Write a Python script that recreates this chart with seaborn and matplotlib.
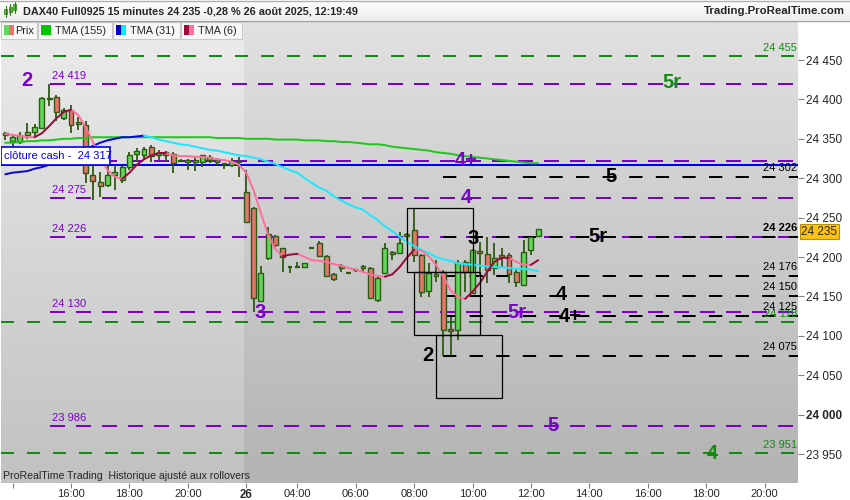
import numpy as np
import pandas as pd
import matplotlib
matplotlib.use("Agg")
import matplotlib.pyplot as plt
from matplotlib.patches import Rectangle
from matplotlib.colors import to_rgb
import seaborn as sns

sns.set_theme(style="white")
plt.rcParams['font.family'] = ['Liberation Sans', 'DejaVu Sans']
plt.rcParams['lines.scale_dashes'] = False

# ---------------------------------------------------------------- data
# 15-minute bars, index 0 = 16:00 on the 25th (session gaps removed)
bars = list(range(-9, 65))

opens = [24357, 24347, 24346, 24355, 24359, 24364, 24400, 24403, 24376, 24387,
         24369, 24368, 24304, 24295, 24291, 24304, 24298, 24314, 24331, 24329,
         24340, 24330, 24333, 24331, 24322, 24320, 24320, 24321, 24327, 24323,
         24318, 24317, 24322, 24282, 24262, 24144, 24199, 24227, 24211, 24187,
         24187, 24187, 24211, 24218, 24201, 24179, 24188, 24180, 24183, 24186,
         24186, 24145, 24180, 24206, 24205, 24227, 24234, 24203, 24157, 24178,
         24181, 24109, 24107, 24194, 24154, 24207, 24204, 24186, 24202, 24203,
         24181, 24164, 24209, 24227]
highs = [24359, 24356, 24358, 24370, 24369, 24403, 24419, 24405, 24389, 24393,
         24378, 24372, 24317, 24308, 24317, 24317, 24316, 24333, 24338, 24340,
         24342, 24336, 24335, 24333, 24325, 24325, 24326, 24330, 24330, 24326,
         24318, 24326, 24327, 24310, 24264, 24189, 24238, 24228, 24211, 24188,
         24194, 24193, 24212, 24220, 24203, 24180, 24191, 24181, 24185, 24190,
         24187, 24175, 24218, 24207, 24232, 24231, 24262, 24204, 24192, 24196,
         24184, 24124, 24196, 24196, 24210, 24219, 24225, 24218, 24211, 24205,
         24184, 24222, 24226, 24236]
lows = [24349, 24340, 24343, 24350, 24353, 24362, 24392, 24372, 24374, 24357,
        24361, 24294, 24272, 24276, 24289, 24285, 24294, 24311, 24321, 24325,
        24320, 24323, 24321, 24307, 24320, 24311, 24309, 24314, 24319, 24317,
        24312, 24314, 24302, 24243, 24130, 24143, 24196, 24213, 24181, 24180,
        24186, 24186, 24210, 24200, 24175, 24169, 24181, 24179, 24181, 24181,
        24147, 24143, 24179, 24196, 24205, 24219, 24194, 24149, 24149, 24168,
        24075, 24076, 24095, 24156, 24153, 24175, 24167, 24177, 24187, 24167,
        24162, 24163, 24203, 24226]
closes = [24355, 24352, 24355, 24359, 24365, 24402, 24402, 24384, 24387, 24368,
          24371, 24307, 24296, 24290, 24304, 24308, 24314, 24329, 24335, 24337,
          24328, 24332, 24330, 24319, 24321, 24323, 24323, 24329, 24323, 24321,
          24318, 24322, 24320, 24244, 24148, 24180, 24229, 24215, 24200, 24186,
          24188, 24192, 24211, 24201, 24176, 24172, 24186, 24180, 24182, 24188,
          24148, 24173, 24211, 24204, 24218, 24229, 24203, 24156, 24180, 24176,
          24107, 24106, 24192, 24181, 24209, 24205, 24184, 24199, 24200, 24179,
          24168, 24206, 24225, 24235]

tma155 = [24345, 24345, 24346, 24347, 24347, 24348, 24348, 24349, 24350, 24350,
          24351, 24351, 24352, 24352, 24352, 24352, 24352, 24352, 24352, 24352,
          24352, 24352, 24352, 24352, 24352, 24352, 24352, 24352, 24352, 24351,
          24351, 24351, 24351, 24350, 24350, 24350, 24350, 24349, 24349, 24349,
          24349, 24348, 24348, 24348, 24347, 24347, 24346, 24346, 24345, 24344,
          24343, 24343, 24342, 24340, 24339, 24338, 24337, 24336, 24335, 24333,
          24332, 24331, 24329, 24328, 24327, 24326, 24325, 24324, 24323, 24322,
          24321, 24320, 24319, 24319]
tma31 = [24305, 24307, 24308, 24309, 24312, 24314, 24317, 24321, 24324, 24328,
         24332, 24336, 24341, 24345, 24348, 24350, 24352, 24352, 24353, 24354,
         24352, 24349, 24347, 24345, 24343, 24342, 24340, 24338, 24336, 24335,
         24333, 24331, 24329, 24328, 24326, 24324, 24321, 24318, 24314, 24310,
         24307, 24300, 24294, 24288, 24284, 24277, 24272, 24267, 24263, 24260,
         24253, 24247, 24239, 24233, 24226, 24219, 24214, 24209, 24205, 24200,
         24197, 24195, 24192, 24191, 24190, 24189, 24188, 24187, 24187, 24186,
         24185, 24185, 24184, 24182]
tma6 = [24356, 24355, 24354, 24352, 24352, 24357, 24366, 24376, 24384, 24387,
        24380, 24365, 24346, 24327, 24310, 24302, 24299, 24307, 24317, 24324,
        24329, 24332, 24332, 24329, 24328, 24328, 24327, 24327, 24326, 24324,
        24323, 24321, 24317, 24307, 24285, 24256, 24228, 24210, 24201, 24203,
        24204, 24200, 24196, 24195, 24194, 24191, 24189, 24186, 24184, 24181,
        24178, 24176, 24175, 24178, 24187, 24199, 24209, 24208, 24201, 24190,
        24175, 24158, 24149, 24147, 24156, 24167, 24181, 24194, 24199, 24199,
        24194, 24190, 24190, 24196]

cash_close = 24317
last_price = 24235

green_levels = [24455, 24118, 23951]
green_level_labels = ["24 455", "24 118", "23 951"]
purple_levels = [24419, 24322, 24275, 24226, 24130, 23986]
purple_level_labels = ["24 419", "24 322", "24 275", "24 226", "24 130", "23 986"]
black_levels = [24302, 24226, 24176, 24150, 24125, 24075]
black_level_labels = ["24 302", "24 226", "24 176", "24 150", "24 125", "24 075"]

# zones: first bar, bars wide, top and bottom price
zone_start = [46, 47, 50]
zone_top = [24262, 24181, 24101]
zone_bottom = [24181, 24101, 24021]
zone_len = 9

# wave counts: text, bar, price
purple_counts = [("2", -6.0, 24424), ("3", 25.9, 24130), ("4+", 54.1, 24322),
                 ("4", 54.1, 24275), ("5r", 61.1, 24130), ("5", 66.0, 23986)]
green_counts = [("5r", 82.3, 24422), ("4", 87.9, 23951)]
black_counts = [("3", 55.1, 24224), ("5", 74.0, 24302), ("5r", 72.2, 24226),
                ("4", 67.1, 24152), ("4+", 68.4, 24125), ("2", 48.9, 24075)]

yticks = [23950, 24000, 24050, 24100, 24150, 24200, 24250, 24300, 24350, 24400, 24450]
xtick_bars = [-8, 0, 8, 16, 24, 31, 39, 47, 55, 63, 71, 79, 87, 95]
xtick_labels = ["", "16:00", "18:00", "20:00", "26", "04:00", "06:00", "08:00",
                "10:00", "12:00", "14:00", "16:00", "18:00", "20:00"]

# ---------------------------------------------------------------- colours
WICK = "#2d5a12"
UP_FILL = "#5fd75a"
DOWN_FILL = "#e8736b"
PURPLE = "#7a00cc"
GREEN_LVL = "#138a13"
BLUE = "#0000f0"

# ---------------------------------------------------------------- figure
W, H = 850, 500
fig = plt.figure(figsize=(W / 100, H / 100), dpi=100)
fig.patch.set_facecolor("white")

px_l, px_r, px_t, px_b = 1, 798, 22, 483
ax = fig.add_axes([px_l / W, (H - px_b) / H, (px_r - px_l) / W, (px_b - px_t) / H])

bar_px = 7.3
x0_px = 71
xmin = (px_l - x0_px) / bar_px
xmax = (px_r - x0_px) / bar_px
pp = 1.269  # price per pixel
ymin = 24450 - (px_b - 60) * pp
ymax = 24450 + (60 - px_t) * pp
ax.set_xlim(xmin, xmax)
ax.set_ylim(ymin, ymax)


def vgrad(top, bottom, n=256):
    t = np.linspace(0, 1, n)[:, None]
    a, b = np.array(to_rgb(top)), np.array(to_rgb(bottom))
    return (a * (1 - t) + b * t)[:, None, :]


split = 23.7
ax.imshow(vgrad("#ececec", "#c1c1c1"), extent=[xmin, split, ymin, ymax],
          aspect="auto", origin="upper", zorder=0, interpolation="bilinear")
ax.imshow(vgrad("#e1e1e1", "#b3b3b3"), extent=[split, xmax, ymin, ymax],
          aspect="auto", origin="upper", zorder=0, interpolation="bilinear")

for s in ax.spines.values():
    s.set_visible(False)

# ---------------------------------------------------------------- levels
px2pt = 0.72
lw_lvl = 2 * px2pt
for lvl in green_levels:
    ax.plot([xmin, xmax], [lvl, lvl], color=GREEN_LVL, lw=lw_lvl,
            dashes=(13 * px2pt, 13 * px2pt), zorder=2)
purple_x0 = (50 - x0_px) / bar_px
for lvl in purple_levels:
    ax.plot([purple_x0, xmax], [lvl, lvl], color=PURPLE, lw=lw_lvl,
            dashes=(15 * px2pt, 11 * px2pt), zorder=2)
black_x0 = 51
for lvl in black_levels:
    ax.plot([black_x0, xmax], [lvl, lvl], color="black", lw=lw_lvl,
            dashes=(13.3 * px2pt, 13.3 * px2pt), zorder=2.2)

ax.axhline(cash_close, color=BLUE, lw=2 * px2pt, zorder=2.5)

# price labels of levels
lab_fs = 8
x_left_lab = (52 - x0_px) / bar_px
for lvl, txt in zip(purple_levels, purple_level_labels):
    ax.text(x_left_lab, lvl + 3 * pp, txt, color=PURPLE, fontsize=lab_fs,
            ha="left", va="bottom", zorder=6)
x_right_lab = (797 - x0_px) / bar_px
for lvl, txt in zip(green_levels, green_level_labels):
    ax.text(x_right_lab, lvl + 3 * pp, txt, color=GREEN_LVL, fontsize=lab_fs,
            ha="right", va="bottom", zorder=6)
for lvl, txt in zip(black_levels, black_level_labels):
    ax.text(x_right_lab, lvl + 4 * pp, txt, color="black", fontsize=lab_fs,
            ha="right", va="bottom", zorder=6.5,
            fontweight="bold" if lvl == 24226 else "normal")

# ---------------------------------------------------------------- candles
for b, o, h, l, c in zip(bars, opens, highs, lows, closes):
    ax.plot([b, b], [l, h], color=WICK, lw=1.3, zorder=3, solid_capstyle="butt")
    if abs(c - o) < 1.5:
        ax.plot([b - 0.34, b + 0.34], [o, o], color=WICK, lw=1.6, zorder=4,
                solid_capstyle="butt")
    else:
        ax.bar(b, abs(c - o), bottom=min(o, c), width=0.68,
               color=UP_FILL if c > o else DOWN_FILL, edgecolor=WICK,
               linewidth=1.0, zorder=4)


# ---------------------------------------------------------------- averages
def direction_runs(values):
    rows, run, prev = [], 0, None
    for k in range(len(values) - 1):
        if values[k + 1] > values[k]:
            d = "up"
        elif values[k + 1] < values[k]:
            d = "down"
        else:
            d = prev or "up"
        if d != prev:
            run += 1
            rows.append((bars[k], values[k], run, d))
        rows.append((bars[k + 1], values[k + 1], run, d))
        prev = d
    return pd.DataFrame(rows, columns=["bar", "value", "run", "dir"])


sns.lineplot(x=bars, y=tma155, color="#1ec81e", lw=2 * px2pt, ax=ax, zorder=5)
sns.lineplot(data=direction_runs(tma31), x="bar", y="value", hue="dir",
             units="run", estimator=None, sort=False,
             palette={"up": "#0a0ad2", "down": "#1ee8ff"},
             lw=2 * px2pt, legend=False, ax=ax, zorder=5)
sns.lineplot(data=direction_runs(tma6), x="bar", y="value", hue="dir",
             units="run", estimator=None, sort=False,
             palette={"up": "#9a0a3c", "down": "#ff6f9c"},
             lw=2 * px2pt, legend=False, ax=ax, zorder=5.2)
ax.set_xlabel("")
ax.set_ylabel("")

# ---------------------------------------------------------------- zones
for s0, zt, zb in zip(zone_start, zone_top, zone_bottom):
    ax.add_patch(Rectangle((s0, zb), zone_len, zt - zb, fill=False,
                           edgecolor="black", lw=0.9, zorder=6))

# ---------------------------------------------------------------- counts
cnt_fs = 14.5
for txt, b, p in purple_counts:
    ax.text(b, p, txt, color=PURPLE, fontsize=cnt_fs, fontweight="bold",
            ha="center", va="center", zorder=7)
for txt, b, p in green_counts:
    ax.text(b, p, txt, color=GREEN_LVL, fontsize=cnt_fs, fontweight="bold",
            ha="center", va="center", zorder=7)
for txt, b, p in black_counts:
    ax.text(b, p, txt, color="black", fontsize=cnt_fs, fontweight="bold",
            ha="center", va="center", zorder=7)

# cash close tag
box_x1 = (110 - x0_px) / bar_px
ax.add_patch(Rectangle((xmin + 0.05, cash_close), box_x1 - xmin - 0.05, 22,
                       facecolor="white", edgecolor=BLUE, lw=1.2, zorder=8))
ax.text(xmin + 0.35, cash_close + 11, "clôture cash -  24 317", color=BLUE,
        fontsize=8, ha="left", va="center", zorder=9)

# ---------------------------------------------------------------- axes
ax.yaxis.tick_right()
ax.set_yticks(yticks)
ax.set_yticklabels([f"{v // 1000} {v % 1000:03d}" for v in yticks], fontsize=8.5)
for t in ax.get_yticklabels():
    if t.get_text() == "24 000":
        t.set_fontweight("bold")
ax.tick_params(axis="y", direction="out", length=4, width=0.8, color="#808080",
               pad=2, right=True, left=False, labelright=True, labelleft=False)
ax.set_xticks(xtick_bars)
ax.set_xticklabels(xtick_labels, fontsize=8)
for t in ax.get_xticklabels():
    if t.get_text() == "26":
        t.set_fontweight("bold")
        t.set_fontsize(8.3)
ax.tick_params(axis="x", direction="out", length=3.5, width=0.8, color="#808080",
               pad=1.0, bottom=True)

# last price tag on the scale
ax.annotate(f"{last_price // 1000} {last_price % 1000:03d}",
            xy=(1.0, last_price), xycoords=("axes fraction", "data"),
            xytext=(2.5, -1.5), textcoords="offset points", fontsize=8.5,
            ha="left", va="center", zorder=10, annotation_clip=False,
            bbox=dict(boxstyle="square,pad=0.12", facecolor="#ffc20e",
                      edgecolor="#b89000", lw=0.8))

# ---------------------------------------------------------------- header
ov = fig.add_axes([0, 0, 1, 1], zorder=20)
ov.set_xlim(0, W)
ov.set_ylim(H, 0)
ov.axis("off")
ov.patch.set_alpha(0)

ov.imshow(vgrad("#ffffff", "#eeeeee"), extent=[0, W, 20, 0], aspect="auto")
ov.plot([0, W], [0.5, 0.5], color="#b0b0b0", lw=1)
ov.plot([0, W], [20.5, 20.5], color="#a0a0a0", lw=1)
ov.set_xlim(0, W)
ov.set_ylim(H, 0)

# small candle icon
for cx, y0, y1, by0, by1 in [(6, 6, 17, 9, 14), (10.5, 4, 15, 7, 12), (15, 2, 13, 4, 10)]:
    ov.plot([cx, cx], [y0, y1], color="#2d7a12", lw=0.8)
    ov.add_patch(Rectangle((cx - 1.5, by0), 3, by1 - by0, facecolor="#4fcf3f",
                           edgecolor="#2d7a12", lw=0.5))

ov.text(23, 11, "DAX40 Full0925 15 minutes 24 235 -0,28 % 26 août 2025, 12:19:49",
        fontsize=7.8, fontweight="bold", ha="left", va="center")
ov.text(845, 11, "Trading.ProRealTime.com", fontsize=8.2, fontweight="bold",
        ha="right", va="center")

legend_items = [
    (1, 37, "Prix", ("#5fd75a", "#e8736b"), 15),
    (38, 112, "TMA (155)", ("#00c800", "#00c800"), 55),
    (113, 180, "TMA (31)", ("#0000c8", "#00f0ff"), 130),
    (181, 242, "TMA (6)", ("#9a0a3c", "#ff6f9c"), 198),
]
for x0, x1, txt, (c1, c2), tx in legend_items:
    ov.add_patch(Rectangle((x0, 22), x1 - x0, 17, facecolor="#f7f7f7",
                           edgecolor="#c8c8c8", lw=0.8))
    ov.add_patch(Rectangle((x0 + 3, 25), 5, 10, facecolor=c1, lw=0))
    ov.add_patch(Rectangle((x0 + 8, 25), 5, 10, facecolor=c2, lw=0))
    ov.text(tx, 30.5, txt, fontsize=7.8, ha="left", va="center")

ov.text(3, 476, "ProRealTime Trading  Historique ajusté aux rollovers",
        fontsize=7.6, ha="left", va="center")

fig.savefig("out.png", dpi=100, facecolor="white")
